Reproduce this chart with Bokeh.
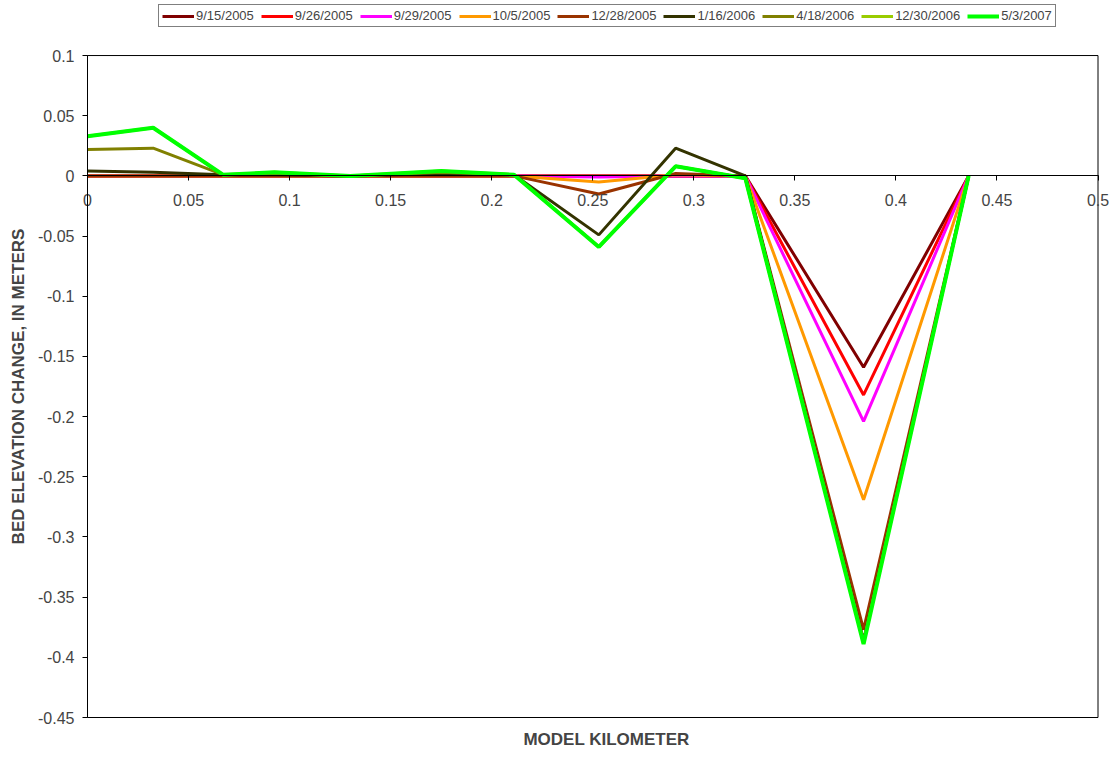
import math
from bokeh.plotting import figure
from bokeh.models import (Range1d, LinearAxis, FixedTicker, CustomJSTickFormatter,
                          Legend, LegendItem, Label)
from bokeh.embed import file_html
from bokeh.resources import INLINE

# ---- data ----
model_km = [0, 0.0325, 0.067, 0.0925, 0.130, 0.175, 0.211, 0.253, 0.291, 0.3255, 0.384, 0.436]
dates = ["9/15/2005", "9/26/2005", "9/29/2005", "10/5/2005", "12/28/2005",
         "1/16/2006", "4/18/2006", "12/30/2006", "5/3/2007"]
s_20050915 = [0, 0, 0, 0, 0, 0, 0, 0, 0, 0, -0.159, 0]
s_20050926 = [0, 0, 0, 0, 0, 0, 0, 0, 0, 0, -0.182, 0]
s_20050929 = [0, 0, 0, 0, 0, 0, 0, -0.001, 0, 0, -0.204, 0]
s_20051005 = [0, 0, 0, 0, 0, 0, 0, -0.005, 0.001, 0, -0.269, 0]
s_20051228 = [0, 0, 0, 0, 0, 0, 0, -0.015, 0.002, 0, -0.377, 0]
s_20060116 = [0.004, 0.003, 0.001, 0.001, 0, 0.002, 0.001, -0.049, 0.023, 0, -0.386, 0]
s_20060418 = [0.022, 0.023, 0.001, 0.002, 0, 0.003, 0.001, -0.059, 0.008, -0.002, -0.387, 0]
s_20061230 = [0.033, 0.040, 0.001, 0.003, 0, 0.004, 0.001, -0.059, 0.008, -0.002, -0.388, 0]
s_20070503 = [0.033, 0.040, 0.001, 0.003, 0, 0.004, 0.001, -0.059, 0.008, -0.002, -0.389, 0]
series = [s_20050915, s_20050926, s_20050929, s_20051005, s_20051228,
          s_20060116, s_20060418, s_20061230, s_20070503]
colors = ["#800000", "#FF0000", "#FF00FF", "#FF9900", "#993300",
          "#333300", "#808000", "#99CC00", "#00FF00"]
x_ticks = [0, 0.05, 0.1, 0.15, 0.2, 0.25, 0.3, 0.35, 0.4, 0.45, 0.5]
y_ticks = [0.1, 0.05, 0, -0.05, -0.1, -0.15, -0.2, -0.25, -0.3, -0.35, -0.4, -0.45]
x_title = "MODEL KILOMETER"
y_title = "BED ELEVATION CHANGE, IN METERS"

FONT = "Liberation Sans"
W, H = 1109, 751

# whole canvas is the frame; ranges chosen so the axis box sits where it does in the reference
p = figure(width=W, height=H, output_backend="svg", toolbar_location=None,
           x_range=Range1d(-0.04305, 0.50569), y_range=Range1d(-0.47824, 0.14573),
           x_axis_type=None, y_axis_type=None,
           min_border_left=0, min_border_right=0, min_border_top=0, min_border_bottom=0)
p.xgrid.visible = False
p.ygrid.visible = False
p.outline_line_color = None
p.background_fill_color = "white"
p.border_fill_color = "white"

x0, x1 = x_ticks[0], x_ticks[-1]
y0, y1 = y_ticks[-1], y_ticks[0]

# plot-area box
p.quad(left=[x0], right=[x1], bottom=[y0], top=[y1], fill_color=None,
       line_color="black", line_width=1)

fmt = CustomJSTickFormatter(code="return String(Number(tick.toFixed(3)));")

yaxis = LinearAxis(ticker=FixedTicker(ticks=y_ticks), formatter=fmt,
                   fixed_location=0, bounds=(y0, y1))
yaxis.major_tick_in = 0
yaxis.major_tick_out = 5
yaxis.minor_tick_out = 0
yaxis.minor_tick_in = 0
yaxis.major_label_text_font = FONT
yaxis.major_label_text_font_size = "16px"
yaxis.major_label_standoff = 8
yaxis.axis_line_color = "black"
p.add_layout(yaxis, "left")

xaxis = LinearAxis(ticker=FixedTicker(ticks=x_ticks), formatter=fmt,
                   fixed_location=0, bounds=(x0, x1))
xaxis.major_tick_in = 0
xaxis.major_tick_out = 5
xaxis.minor_tick_out = 0
xaxis.minor_tick_in = 0
xaxis.major_label_text_font = FONT
xaxis.major_label_text_font_size = "16px"
xaxis.major_label_standoff = 13
xaxis.axis_line_color = "black"
p.add_layout(xaxis, "below")

p.add_layout(Label(x=18, y=H - 386, x_units="screen", y_units="screen", text=y_title,
                   angle=math.pi / 2, text_align="center", text_baseline="middle",
                   text_font=FONT, text_font_size="17px", text_font_style="bold"))
p.add_layout(Label(x=606, y=H - 739, x_units="screen", y_units="screen", text=x_title,
                   text_align="center", text_baseline="middle",
                   text_font=FONT, text_font_size="17px", text_font_style="bold"))

items = []
for name, vals, col in zip(dates, series, colors):
    lw = 4 if col == "#00FF00" else 3
    r = p.line(model_km, vals, line_color=col, line_width=lw)
    items.append(LegendItem(label=name, renderers=[r]))

legend = Legend(items=items, orientation="horizontal", location=(158, H - 27),
                border_line_color="black", border_line_width=1,
                background_fill_color="white", background_fill_alpha=1,
                label_text_font=FONT, label_text_font_size="13px",
                glyph_width=32, glyph_height=12, label_standoff=2, spacing=7,
                padding=3, margin=0, label_height=13)
p.add_layout(legend, "center")

open("out.html", "w").write(file_html(p, INLINE))
